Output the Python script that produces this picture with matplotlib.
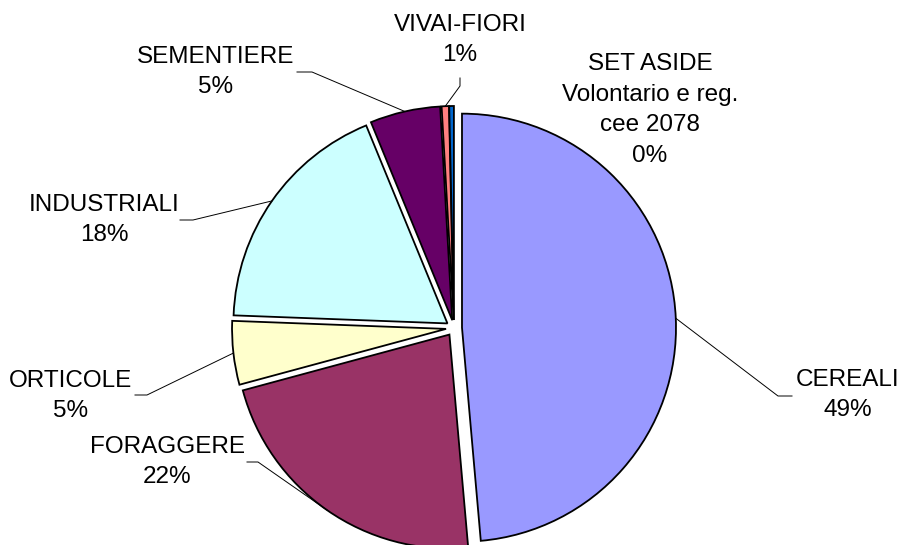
import numpy as np
import matplotlib
matplotlib.use('Agg')
import matplotlib.pyplot as plt

# slice data (clockwise from 12 o'clock)
labels = ['CEREALI', 'FORAGGERE', 'ORTICOLE', 'INDUSTRIALI', 'SEMENTIERE',
          'VIVAI-FIORI', 'SET ASIDE\nVolontario e reg.\ncee 2078']
values = [48.6, 22.2, 4.8, 18.2, 5.3, 0.55, 0.35]
pct_text = ['49%', '22%', '5%', '18%', '5%', '1%', '0%']
colors = ['#9999FF', '#993366', '#FFFFCC', '#CCFFFF', '#660066', '#FF8080', '#0066CC']

# layout in pixel units (figure is 902 x 545)
W, H = 902, 545
cx, cy, R = 454, 328, 214
expl = 8  # pixels, matplotlib explode is in data units
# text centre, leader elbow, leader end (None = no leader)
text_pos = [(848, 395), (167, 462), (71, 396), (104, 220), (216, 72), (460, 40), (650, 110)]
elbow = [(778, 396), (258, 462), (147, 395), (193, 220), (312, 72), (460, 86), None]
lead_end = [(792, 396), (247, 462), (135, 395), (180, 220), (297, 72), (460, 78), None]

plt.rcParams['font.family'] = ['Liberation Sans', 'DejaVu Sans']
fig = plt.figure(figsize=(W / 100, H / 100), dpi=100)
ax = fig.add_axes([0, 0, 1, 1])

wedges, _ = ax.pie(values, colors=colors, startangle=90, counterclock=False,
                   center=(cx, H - cy), radius=R, explode=[expl] * len(values),
                   wedgeprops=dict(edgecolor='black', linewidth=1.3), frame=True)

tot = sum(values)
start = 0.0
for k in range(len(values)):
    mid = start + values[k] / tot * 360 / 2
    start += values[k] / tot * 360
    a = np.radians(mid)
    # exploded wedge vertex, then point on arc at mid angle
    vx = cx + expl * np.sin(a)
    vy = cy - expl * np.cos(a)
    px = vx + R * np.sin(a)
    py = vy - R * np.cos(a)
    if elbow[k] is not None:
        xs = [px, elbow[k][0], lead_end[k][0]]
        ys = [H - py, H - elbow[k][1], H - lead_end[k][1]]
        ax.plot(xs, ys, color='black', linewidth=0.7)
    tx, ty = text_pos[k]
    ax.text(tx, H - ty, labels[k] + '\n' + pct_text[k], ha='center', va='center',
            fontsize=17.5, linespacing=1.5, color='black')

ax.set_xlim(0, W)
ax.set_ylim(0, H)
ax.set_aspect('equal')
ax.axis('off')

fig.savefig('out.png', dpi=100)
